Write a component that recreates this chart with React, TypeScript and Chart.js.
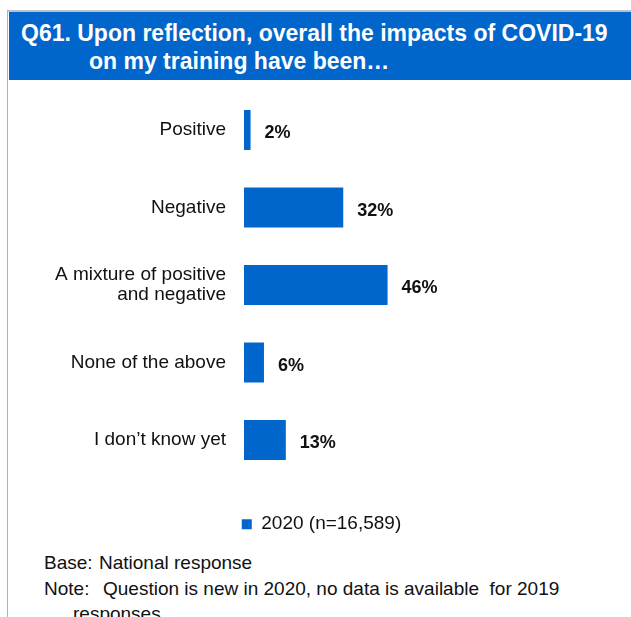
import React, { useEffect, useRef } from "react";
import { Chart, registerables } from "chart.js";

Chart.register(...registerables);

const TITLE_LINE_1 = "Q61. Upon reflection, overall the impacts of COVID-19";
const TITLE_LINE_2 = "on my training have been…";

const CATEGORIES: (string | string[])[] = [
  "Positive",
  "Negative",
  ["A mixture of positive", "and negative"],
  "None of the above",
  "I don’t know yet",
];
const VALUES_2020 = [2.1, 31.8, 46.0, 6.4, 13.4];
const SERIES_LABEL = "2020 (n=16,589)";
const X_MAX = 124;

const BAR_COLOR = "#0066CC";
const TEXT_COLOR = "#111111";
const FONT = '"Liberation Sans", Arial, sans-serif';

const dataLabelPlugin = {
  id: "dataLabels",
  afterDatasetsDraw(chart: any) {
    const { ctx } = chart;
    const meta = chart.getDatasetMeta(0);
    const values = chart.data.datasets[0].data as number[];
    ctx.save();
    ctx.font = `bold 18px ${FONT}`;
    ctx.fillStyle = TEXT_COLOR;
    ctx.textAlign = "left";
    ctx.textBaseline = "middle";
    meta.data.forEach((bar: any, i: number) => {
      ctx.fillText(`${Math.round(values[i])}%`, bar.x + 14, bar.y + 3.5);
    });
    ctx.restore();
  },
};

function BarChart() {
  const ref = useRef<HTMLCanvasElement | null>(null);
  useEffect(() => {
    if (!ref.current) return;
    const chart = new Chart(ref.current, {
      type: "bar",
      data: {
        labels: CATEGORIES,
        datasets: [
          {
            label: SERIES_LABEL,
            data: VALUES_2020,
            backgroundColor: BAR_COLOR,
            borderWidth: 0,
            barPercentage: 0.516,
            categoryPercentage: 1,
          },
        ],
      },
      options: {
        indexAxis: "y",
        responsive: false,
        animation: false,
        devicePixelRatio: 1,
        layout: { padding: { left: 12, top: 11.25, right: 0, bottom: 6.25 } },
        scales: {
          x: { min: 0, max: X_MAX, display: false },
          y: {
            grid: { display: false, drawTicks: false },
            border: { display: false },
            ticks: {
              padding: 18,
              color: TEXT_COLOR,
              font: { family: FONT, size: 19, lineHeight: 1.06 },
            },
            afterFit(scale: any) {
              scale.width = 232;
              scale.paddingTop = 0;
              scale.paddingBottom = 0;
            },
          },
        },
        plugins: {
          tooltip: { enabled: false },
          legend: {
            position: "bottom",
            labels: {
              boxWidth: 10,
              boxHeight: 10,
              padding: 36,
              color: TEXT_COLOR,
              font: { family: FONT, size: 19 },
            },
          },
        },
      },
      plugins: [dataLabelPlugin],
    });
    return () => chart.destroy();
  }, []);
  return (
    <canvas
      ref={ref}
      width={631}
      height={470}
      style={{ position: "absolute", left: 0, top: 80, width: 631, height: 470 }}
    />
  );
}

const abs = (left: number, top: number, extra: React.CSSProperties = {}): React.CSSProperties => ({
  position: "absolute",
  left,
  top,
  whiteSpace: "pre",
  lineHeight: 1,
  margin: 0,
  ...extra,
});

export default function App() {
  const titleStyle: React.CSSProperties = {
    fontFamily: FONT,
    fontWeight: "bold",
    fontSize: 23,
    color: "#ffffff",
  };
  const footStyle: React.CSSProperties = {
    fontFamily: FONT,
    fontSize: 19,
    color: TEXT_COLOR,
  };
  return (
    <div
      style={{
        position: "absolute",
        left: 0,
        top: 0,
        width: 631,
        height: 617,
        overflow: "hidden",
        background: "#ffffff",
      }}
    >
      <div style={{ position: "absolute", left: 7, top: 10, width: 624, height: 2, background: "#b7c3d3" }} />
      <div style={{ position: "absolute", left: 7, top: 10, width: 1, height: 607, background: "#b0b0b0" }} />
      <div style={{ position: "absolute", left: 9, top: 12, width: 622, height: 68, background: BAR_COLOR }} />
      <div style={abs(21, 22, titleStyle)}>{TITLE_LINE_1}</div>
      <div style={abs(89, 50, titleStyle)}>{TITLE_LINE_2}</div>
      <BarChart />
      <div style={abs(44, 553.2, footStyle)}>Base:</div>
      <div style={abs(99, 553.2, footStyle)}>National response</div>
      <div style={abs(44, 578.9, footStyle)}>Note:</div>
      <div style={abs(103, 578.9, footStyle)}>Question is new in 2020, no data is available  for 2019</div>
      <div style={abs(73, 604, footStyle)}>responses.</div>
    </div>
  );
}
